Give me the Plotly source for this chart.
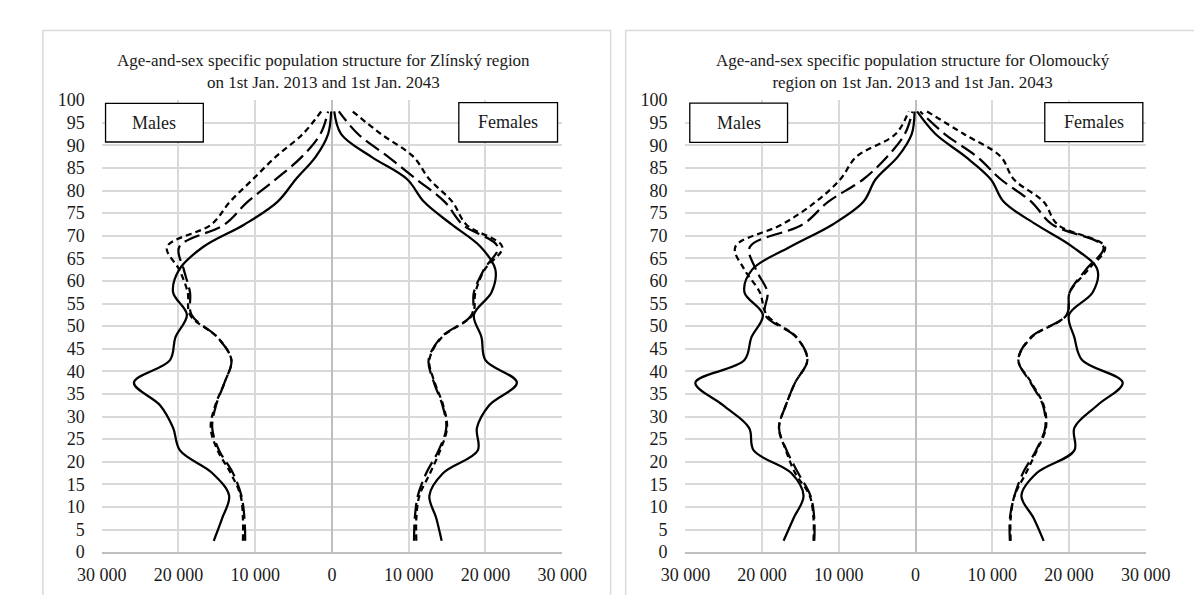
import plotly.graph_objects as go

W, H = 1202, 595

ages = [2.5, 7.5, 12.5, 17.5, 22.5, 27.5, 32.5, 37.5, 42.5, 47.5,
        52.5, 57.5, 62.5, 67.5, 72.5, 77.5, 82.5, 87.5, 92.5, 97.5]

# Zlínský region
zl_m_solid = [15400, 14300, 13400, 15600, 19800, 20700, 22400, 25800, 21100, 20400,
              18900, 20700, 19900, 16800, 11400, 7100, 4700, 2100, 500, 100]
zl_m_long = [11300, 11400, 11800, 12900, 14700, 15600, 15100, 14000, 13100, 14900,
             18300, 18500, 19300, 19900, 14000, 11000, 7300, 3900, 1500, 500]
zl_m_short = [11600, 11600, 11900, 13200, 14900, 15800, 15200, 14000, 13100, 14900,
              18500, 18800, 19900, 21500, 15700, 13300, 10300, 7300, 3800, 1400]
zl_f_solid = [14300, 13600, 12700, 14500, 19000, 18900, 20500, 24100, 20000, 19500,
              18500, 20800, 21300, 19400, 15600, 12000, 9800, 5100, 1200, 300]
zl_f_long = [10700, 10800, 11200, 12300, 13900, 14900, 14400, 13300, 12600, 14200,
             18200, 18500, 19800, 21600, 17000, 14700, 11000, 7300, 3400, 900]
zl_f_short = [11000, 11000, 11400, 12800, 14100, 15000, 14500, 13400, 12700, 14300,
              18300, 18700, 19900, 22200, 17500, 15700, 12700, 10600, 6400, 2700]

# Olomoucký region
ol_m_solid = [17200, 15900, 14600, 16200, 21100, 21700, 25100, 28700, 22300, 21400,
              19900, 22300, 21300, 16400, 10800, 6800, 5200, 2300, 500, 130]
ol_m_long = [13200, 13200, 13700, 15300, 16800, 17800, 16900, 15700, 14100, 15500,
             19600, 19300, 20800, 21600, 14700, 11400, 6800, 3700, 1400, 400]
ol_m_short = [13300, 13300, 13800, 15700, 16900, 17800, 16900, 15700, 14100, 15500,
              19400, 20300, 22300, 23500, 17400, 13000, 9800, 7700, 2600, 900]
ol_f_solid = [16700, 15400, 13800, 15800, 20700, 20700, 23700, 27000, 21700, 20700,
              20000, 23100, 23700, 20500, 15700, 11500, 9800, 6500, 2600, 200]
ol_f_long = [12300, 12300, 12900, 14000, 15700, 16900, 16600, 15000, 13400, 15000,
             19700, 20100, 22200, 24500, 17800, 15100, 11100, 8000, 3800, 600]
ol_f_short = [12400, 12400, 12900, 14400, 15800, 17000, 16700, 15100, 13400, 15100,
              19700, 20100, 22500, 24700, 18500, 16700, 12800, 11100, 6300, 1500]

x_tickvals = [-30000, -20000, -10000, 0, 10000, 20000, 30000]
x_ticktext = ["30 000", "20 000", "10 000", "0", "10 000", "20 000", "30 000"]
y_tickvals = list(range(0, 101, 5))

titles = [
    "Age-and-sex specific population structure for Zlínský region<br>on 1st Jan. 2013 and 1st Jan. 2043",
    "Age-and-sex specific population structure for Olomoucký<br>region on 1st Jan. 2013 and 1st Jan. 2043",
]

FONT = "Liberation Serif, Times New Roman, serif"
TXT = "#1a1a1a"

fig = go.Figure()

dash_styles = {"solid": "solid", "long": "16px,6px", "short": "6px,4px"}

panels = [
    ("x", "y", [(zl_m_solid, zl_f_solid, "solid"), (zl_m_long, zl_f_long, "long"),
                (zl_m_short, zl_f_short, "short")]),
    ("x2", "y2", [(ol_m_solid, ol_f_solid, "solid"), (ol_m_long, ol_f_long, "long"),
                  (ol_m_short, ol_f_short, "short")]),
]

for xa, ya, series in panels:
    for males, females, style in series:
        for vals in ([-v for v in males], females):
            fig.add_trace(go.Scatter(
                x=vals, y=ages, xaxis=xa, yaxis=ya, mode="lines",
                line=dict(color="black", width=2.25, dash=dash_styles[style],
                          shape="spline", smoothing=1.0),
                showlegend=False, hoverinfo="skip"))

def px_x(p):
    return p / W

def px_y(p):
    return 1 - p / H

plot_left = [71.7, 680.7]
plot_right = [552.1, 1161.0]
plot_top, plot_bottom = 85.0, 552.7

xaxis_common = dict(range=[-30000, 30000], tickvals=x_tickvals, ticktext=x_ticktext,
                    showgrid=True, gridcolor="#d9d9d9", gridwidth=1.5,
                    zeroline=True, zerolinecolor="#bfbfbf", zerolinewidth=1.5,
                    showline=True, linecolor="#bfbfbf", linewidth=1.5,
                    ticks="", ticklabelstandoff=6,
                    tickfont=dict(family=FONT, size=18, color=TXT), fixedrange=True)
yaxis_common = dict(range=[0, 100], tickvals=y_tickvals,
                    showgrid=True, gridcolor="#d9d9d9", gridwidth=1.5,
                    zeroline=False, showline=False, ticks="",
                    tickfont=dict(family=FONT, size=18, color=TXT), fixedrange=True,
                    domain=[px_y(plot_bottom), px_y(plot_top)])

fig.update_layout(
    width=W, height=H, margin=dict(l=0, r=0, t=0, b=0),
    paper_bgcolor="white", plot_bgcolor="white",
    xaxis=dict(domain=[px_x(plot_left[0]), px_x(plot_right[0])], anchor="y", **xaxis_common),
    yaxis=dict(anchor="x", ticklabelstandoff=16, **yaxis_common),
    xaxis2=dict(domain=[px_x(plot_left[1]), px_x(plot_right[1])], anchor="y2", **xaxis_common),
    yaxis2=dict(anchor="x2", ticklabelstandoff=17, **yaxis_common),
)

shapes = []
# panel borders
shapes.append(dict(type="rect", xref="paper", yref="paper",
                   x0=px_x(10.3), x1=px_x(602.7), y0=px_y(620), y1=px_y(13),
                   line=dict(color="#d9d9d9", width=1.5), fillcolor="rgba(0,0,0,0)", layer="below"))
shapes.append(dict(type="rect", xref="paper", yref="paper",
                   x0=px_x(618.4), x1=px_x(1215), y0=px_y(620), y1=px_y(13),
                   line=dict(color="#d9d9d9", width=1.5), fillcolor="rgba(0,0,0,0)", layer="below"))

boxes = [
    ("Males", 75.7, 177.7, 88.3, 128.3),
    ("Females", 444.3, 547.3, 87.5, 128.3),
    ("Males", 685.3, 787.3, 88.0, 128.7),
    ("Females", 1055.7, 1158.0, 87.5, 128.0),
]
annotations = []
for text, x0, x1, y0, y1 in boxes:
    shapes.append(dict(type="rect", xref="paper", yref="paper",
                       x0=px_x(x0), x1=px_x(x1), y0=px_y(y1), y1=px_y(y0),
                       line=dict(color="black", width=1.3), fillcolor="white", layer="above"))
    annotations.append(dict(text=text, xref="paper", yref="paper",
                            x=px_x((x0 + x1) / 2), y=px_y((y0 + y1) / 2),
                            xanchor="center", yanchor="middle", showarrow=False,
                            font=dict(family=FONT, size=18, color=TXT)))

for t, cx in zip(titles, [303.3, 917.8]):
    annotations.append(dict(text=t, xref="paper", yref="paper",
                            x=px_x(cx), y=px_y(55), xanchor="center", yanchor="middle",
                            showarrow=False, align="center",
                            font=dict(family=FONT, size=17, color=TXT)))

fig.update_layout(shapes=shapes, annotations=annotations)

fig.write_html("out.html")
